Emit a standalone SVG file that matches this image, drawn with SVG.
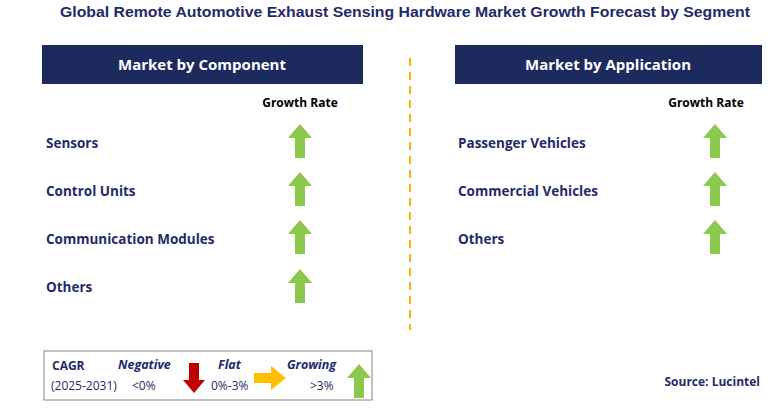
<svg xmlns="http://www.w3.org/2000/svg" xmlns:xlink="http://www.w3.org/1999/xlink" width="781" height="415" viewBox="0 0 781 415">
<style>
text{font-family:"Open Sans","Liberation Sans",sans-serif;font-weight:bold}
.t{fill:#1F2A6B;font-size:13.5px}
.h{fill:#fff;font-size:15px}
.g{fill:#000;font-size:12px}
.l{fill:#1F2A6B;font-size:12px;font-weight:normal}
.li{fill:#1F2A6B;font-size:12.5px;font-style:italic}
</style>
<defs>
<path id="up" d="M0,0 L12,14 L5,14 L5,34 L-5,34 L-5,14 L-12,14 Z" fill="#8CC84B"/>
</defs>
<rect width="781" height="415" fill="#fff"/>
<text x="60" y="17" textLength="690" lengthAdjust="spacingAndGlyphs" style="fill:#1F2A6B;font-size:15px;font-family:'Liberation Sans',Arial,sans-serif">Global Remote Automotive Exhaust Sensing Hardware Market Growth Forecast by Segment</text>
<g id="connectors"><line x1="410" y1="58" x2="410" y2="330" stroke="#F5B800" stroke-width="2" stroke-dasharray="8,6"/></g>
<g id="hdr-left"><rect x="42" y="45" width="321" height="39" fill="#1C2A5E"/><text class="h" x="202" y="70" text-anchor="middle">Market by Component</text></g>
<g id="hdr-right"><rect x="455" y="45" width="307" height="39" fill="#1C2A5E"/><text class="h" x="608" y="70" text-anchor="middle">Market by Application</text></g>
<text class="g" x="300" y="107" text-anchor="middle">Growth Rate</text>
<text class="g" x="706" y="107" text-anchor="middle">Growth Rate</text>
<g id="sensors"><text class="t" x="46" y="148">Sensors</text><use href="#up" x="300" y="124"/></g>
<g id="control"><text class="t" x="46" y="196">Control Units</text><use href="#up" x="300" y="172"/></g>
<g id="comm"><text class="t" x="46" y="244">Communication Modules</text><use href="#up" x="300" y="220"/></g>
<g id="others-l"><text class="t" x="46" y="292">Others</text><use href="#up" x="300" y="269"/></g>
<g id="passenger"><text class="t" x="458" y="148">Passenger Vehicles</text><use href="#up" x="715" y="124"/></g>
<g id="commercial"><text class="t" x="458" y="196">Commercial Vehicles</text><use href="#up" x="715" y="172"/></g>
<g id="others-r"><text class="t" x="458" y="244">Others</text><use href="#up" x="715" y="220"/></g>
<g id="legend">
<rect x="44" y="351" width="328" height="49" fill="#fff" stroke="#999" stroke-width="1.2"/>
<text x="52" y="370" style="fill:#1F2A6B;font-size:12px">CAGR</text>
<text class="l" x="51" y="390">(2025-2031)</text>
<text class="li" x="118" y="369">Negative</text>
<text class="l" x="132" y="390">&lt;0%</text>
<path d="M189,363 L199,363 L199,380 L205,380 L194,393 L183,380 L189,380 Z" fill="#C00000"/>
<text class="li" x="218" y="369">Flat</text>
<text class="l" x="211" y="390">0%-3%</text>
<path d="M254,373 L271,373 L271,366 L286,378 L271,390 L271,383 L254,383 Z" fill="#FFC000"/>
<text class="li" x="287" y="369">Growing</text>
<text class="l" x="310" y="390">&gt;3%</text>
<use href="#up" x="359" y="364"/>
</g>
<text x="760" y="386" text-anchor="end" style="fill:#1F2A6B;font-size:12px">Source: Lucintel</text>
</svg>
